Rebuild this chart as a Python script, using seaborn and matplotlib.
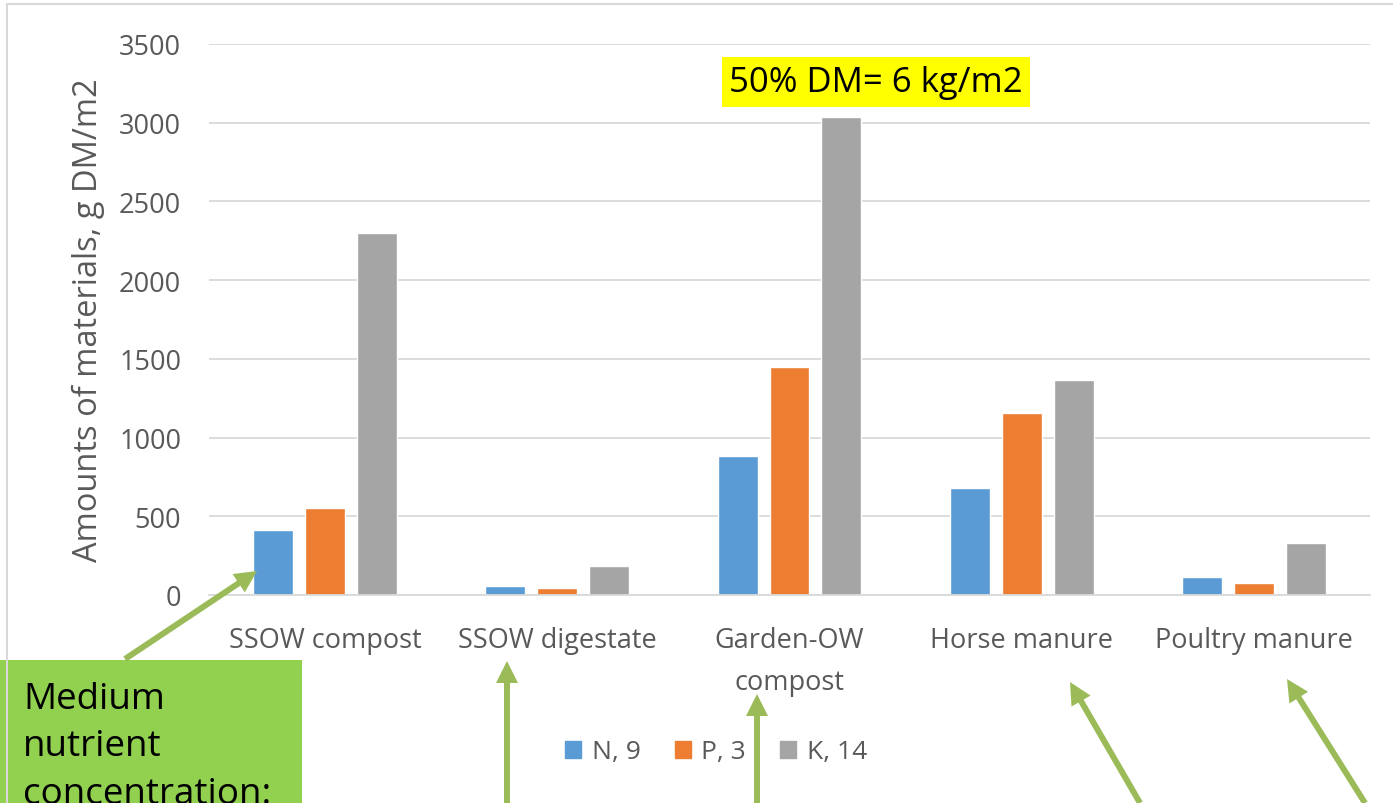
import matplotlib
matplotlib.use("Agg")
import matplotlib.pyplot as plt
from matplotlib.patches import Rectangle, FancyArrow
import seaborn as sns
import pandas as pd

# Dry-matter amounts per material needed to supply each nutrient (g DM/m2)
materials = ["SSOW compost", "SSOW digestate", "Garden-OW\ncompost",
             "Horse manure", "Poultry manure"]
nutrients = ["N, 9", "P, 3", "K, 14"]
n_values = [410, 57, 883, 680, 114]
p_values = [555, 44, 1449, 1156, 76]
k_values = [2300, 184, 3037, 1366, 330]
y_ticks = [0, 500, 1000, 1500, 2000, 2500, 3000, 3500]

colors = ["#5B9BD5", "#ED7D31", "#A5A5A5"]
tick_grey = "#595959"
grid_grey = "#D9D9D9"
arrow_green = "#9BBB59"
box_green = "#92D050"

rows = []
for nut, vals in zip(nutrients, [n_values, p_values, k_values]):
    for mat, v in zip(materials, vals):
        rows.append({"material": mat, "nutrient": nut, "amount": v})
df = pd.DataFrame(rows)

sns.set_theme(style="white")
plt.rcParams["font.family"] = ["Open Sans", "DejaVu Sans"]

W, H = 1393, 804
fig = plt.figure(figsize=(W / 100, H / 100), dpi=100)
fig.patch.set_facecolor("white")

ax = fig.add_axes([209 / W, 1 - 596 / H, (1370 - 209) / W, (596 - 45) / H])
sns.barplot(data=df, x="material", y="amount", hue="nutrient",
            order=materials, hue_order=nutrients, palette=colors,
            saturation=1, width=0.67, gap=0.23, ax=ax, legend=False)

ax.set_xlim(-0.5, len(materials) - 0.5)
ax.set_ylim(0, 3500)
ax.set_yticks(y_ticks)
ax.yaxis.grid(True, color=grid_grey, linewidth=1.3)
ax.set_axisbelow(True)
for side in ["top", "right", "left"]:
    ax.spines[side].set_visible(False)
ax.spines["bottom"].set_color(grid_grey)
ax.spines["bottom"].set_linewidth(1.3)
ax.tick_params(axis="both", length=0, labelsize=19.5, colors=tick_grey)
ax.tick_params(axis="y", pad=20)
ax.tick_params(axis="x", pad=22)
for lbl in ax.get_xticklabels():
    lbl.set_linespacing(1.7)
ax.set_xlabel("")
ax.set_ylabel("Amounts of materials, g DM/m2", fontsize=23.5, color=tick_grey,
              labelpad=10)
ax.patch.set_alpha(0)

# Legend below the plot area
handles = [Rectangle((0, 0), 1, 1, color=c) for c in colors]
fig.legend(handles, nutrients, loc="center", bbox_to_anchor=(716 / W, 1 - 753 / H),
           ncol=3, frameon=False, fontsize=19, handlelength=0.6, handleheight=0.6,
           handletextpad=0.4, columnspacing=1.3, labelcolor=tick_grey)

# Overlay in pixel coordinates for callouts
ov = fig.add_axes([0, 0, 1, 1], zorder=5)
ov.set_xlim(0, W)
ov.set_ylim(H, 0)
ov.axis("off")
ov.patch.set_alpha(0)

# Chart frame
ov.plot([7, W], [5, 5], color=grid_grey, linewidth=1.5)
ov.plot([7, 7], [5, H], color=grid_grey, linewidth=1.5)

ov.text(876, 83, "50% DM= 6 kg/m2", fontsize=25, color="black", ha="center",
        va="center", bbox=dict(boxstyle="square,pad=0.22", facecolor="yellow",
                               edgecolor="none"))

ov.add_patch(Rectangle((0, 661), 302, 160, facecolor=box_green, edgecolor="none"))
ov.text(23, 682, "Medium\nnutrient\nconcentration:", fontsize=26.5, color="black",
        ha="left", va="top", linespacing=1.42)

arrows = [((125, 660), (257, 572)),
          ((507, 820), (507, 662)),
          ((757, 820), (757, 695)),
          ((1140, 804), (1070, 683)),
          ((1365, 804), (1287, 680))]
for (x0, y0), (x1, y1) in arrows:
    ov.add_patch(FancyArrow(x0, y0, x1 - x0, y1 - y0, width=6, head_width=22,
                            head_length=22, length_includes_head=True,
                            color=arrow_green, linewidth=0))

fig.savefig("out.png", dpi=100)
